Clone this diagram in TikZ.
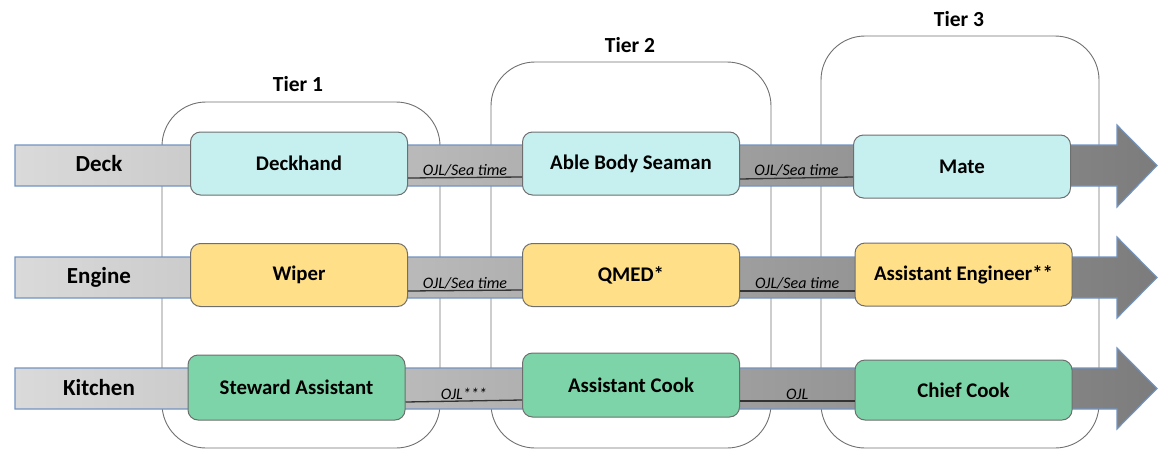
\documentclass[tikz,border=0pt]{standalone}
\usepackage{fontspec}
\setmainfont{Carlito}
\usetikzlibrary{positioning}
\definecolor{cyanfill}{HTML}{C5F0EF}
\definecolor{yelfill}{HTML}{FFDF88}
\definecolor{grnfill}{HTML}{7DD4A8}
\definecolor{nodeline}{HTML}{6E6E6E}
\definecolor{bandline}{HTML}{7294C0}
\definecolor{bandleft}{HTML}{DADADA}
\definecolor{bandright}{HTML}{7C7C7C}
\definecolor{tierline}{HTML}{707070}
\tikzset{
  rolebox/.style={draw=nodeline, line width=1pt, rounded corners=10pt,
    minimum width=217pt, minimum height=63pt, inner sep=0pt,
    font=\fontsize{20.8}{24}\selectfont\bfseries},
  rowlabel/.style={font=\fontsize{23}{26}\selectfont\bfseries, inner sep=0pt},
  tierlabel/.style={font=\fontsize{21.5}{24}\selectfont\bfseries, inner sep=0pt},
  tierbox/.style={draw=tierline, line width=0.9pt, rounded corners=44pt},
  band/.style={draw=bandline, line width=1.1pt, left color=bandleft, right color=bandright},
  link/.style={draw=black!80, line width=1.3pt},
  linklabel/.style={font=\fontsize{16}{18}\selectfont\itshape, inner sep=1pt, above}
}
\begin{document}
\begin{tikzpicture}[x=1pt,y=-1pt]
\useasboundingbox (0,0) rectangle (1161,450);
% tier boxes
\draw[tierbox] (162,102) rectangle (440,448);
\draw[tierbox] (491,62) rectangle (771,448);
\draw[tierbox] (821,36) rectangle (1099,448);
\node[tierlabel] (t1) at (298,84) {Tier 1};
\node[tierlabel] (t2) at (630,45) {Tier 2};
\node[tierlabel] (t3) at (959,19) {Tier 3};
% bands
\path[band] (15,145) -- (1117,145) -- (1117,125) -- (1157,165.5) -- (1117,207) -- (1117,186) -- (15,186) -- cycle;
\path[band] (15,257) -- (1117,257) -- (1117,237) -- (1157,277.5) -- (1117,318) -- (1117,298) -- (15,298) -- cycle;
\path[band] (15,368) -- (1117,368) -- (1117,348) -- (1157,388.5) -- (1117,429) -- (1117,409) -- (15,409) -- cycle;
% row labels
\node[rowlabel] (rdeck) at (99,164) {Deck};
\node[rowlabel] (rengine) at (99,277) {Engine};
\node[rowlabel] (rkitchen) at (99,388) {Kitchen};
% role boxes
\node[rolebox, fill=cyanfill] (d1) at (299,163.5) {Deckhand};
\node[rolebox, fill=cyanfill] (d2) at (631,163.5) {Able Body Seaman};
\node[rolebox, fill=cyanfill] (d3) at (962,166.5) {Mate};
\node[rolebox, fill=yelfill] (e1) at (299,275) {Wiper};
\node[rolebox, fill=yelfill] (e2) at (631,275) {QMED*};
\node[rolebox, fill=yelfill] (e3) at (963.5,274.5) {Assistant Engineer**};
\node[rolebox, fill=grnfill, minimum height=65pt] (k1) at (296.5,387.5) {Steward Assistant};
\node[rolebox, fill=grnfill, minimum height=64pt] (k2) at (631,385) {Assistant Cook};
\node[rolebox, fill=grnfill, minimum height=60pt] (k3) at (963.5,390) {Chief Cook};
% links
\draw[link] ([yshift=-14.5pt]d1.east) -- node[linklabel] {OJL/Sea time} ([yshift=-13.5pt]d2.west);
\draw[link] ([yshift=-15.5pt]d2.east) -- node[linklabel] {OJL/Sea time} ([yshift=-10.5pt]d3.west);
\draw[link] ([yshift=-16pt]e1.east) -- node[linklabel] {OJL/Sea time} ([yshift=-15pt]e2.west);
\draw[link] ([yshift=-16pt]e2.east) -- node[linklabel] {OJL/Sea time} ([yshift=-16.5pt]e3.west);
\draw[link] ([yshift=-14.5pt]k1.east) -- node[linklabel] {OJL***} ([yshift=-15pt]k2.west);
\draw[link] ([yshift=-16pt]k2.east) -- node[linklabel] {OJL} ([yshift=-11pt]k3.west);
\end{tikzpicture}
\end{document}
